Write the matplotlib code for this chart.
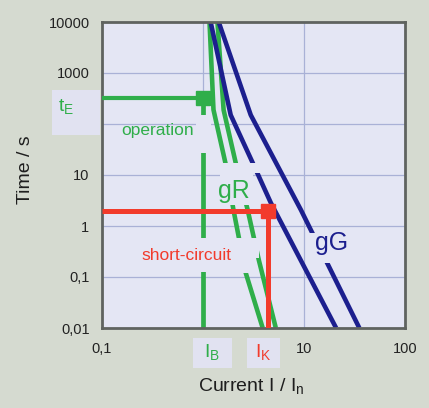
import matplotlib
matplotlib.use("Agg")
import matplotlib.pyplot as plt
from matplotlib.patches import Rectangle
from matplotlib.ticker import FixedLocator, NullLocator

plt.rcParams['font.family'] = ['Liberation Sans', 'DejaVu Sans']

# Time-current characteristics (current in multiples of I_n, time in s)
gR_fast_current = [1.16, 1.27, 1.67, 2.0, 2.65, 3.9]
gR_fast_time = [10000, 190, 17, 2.1, 0.12, 0.01]
gR_slow_current = [1.39, 1.60, 2.11, 2.77, 3.57, 5.26]
gR_slow_time = [10000, 188, 17.2, 2.06, 0.215, 0.01]
gG_fast_current = [1.19, 1.88, 3.11, 4.70, 20.8]
gG_fast_time = [10000, 150, 17.2, 2.83, 0.01]
gG_slow_current = [1.43, 2.97, 9.33, 35.3]
gG_slow_time = [10000, 150, 2.06, 0.01]

# Operating points
I_B = 1.0      # operating current
t_E = 320      # operating time
I_K = 4.45     # short-circuit current
t_K = 2.0      # short-circuit trip time

y_ticks = [0.01, 0.1, 1, 10, 1000, 10000]
y_labels = ['0,01', '0,1', '1', '10', '1000', '10000']
x_ticks = [0.1, 10, 100]
x_labels = ['0,1', '10', '100']

GREEN = '#2fae4a'
BLUE = '#1c1f8e'
RED = '#f23b2c'
PLOT_BG = '#e4e6f4'
FIG_BG = '#d5dad0'
BOX_BG = '#e1e2f1'

W, H = 429, 408
fig = plt.figure(figsize=(W / 100, H / 100), dpi=100, facecolor=FIG_BG)
ax = fig.add_axes([102 / W, 1 - 328 / H, (405 - 102) / W, (328 - 22) / H])
ax.set_facecolor(PLOT_BG)
ax.set_xscale('log')
ax.set_yscale('log')
ax.set_xlim(0.1, 100)
ax.set_ylim(0.01, 10000)

# grid
for yv in [0.1, 1, 10, 100, 1000]:
    ax.axhline(yv, color='#a9b1d6', lw=0.9, zorder=0.5)
for xv in [1, 10]:
    ax.axvline(xv, color='#a9b1d6', lw=0.9, zorder=0.5)

for s in ax.spines.values():
    s.set_color('#5f635f')
    s.set_linewidth(2)

ax.xaxis.set_major_locator(FixedLocator(x_ticks))
ax.xaxis.set_minor_locator(NullLocator())
ax.set_xticklabels(x_labels)
ax.yaxis.set_major_locator(FixedLocator(y_ticks))
ax.yaxis.set_minor_locator(NullLocator())
ax.set_yticklabels(y_labels)
ax.tick_params(length=0, labelsize=10.5, colors='#222222', pad=9)
ax.tick_params(axis='x', pad=10)

# fuse characteristics
lw = 3.3
ax.plot(gR_fast_current, gR_fast_time, color=GREEN, lw=lw, zorder=2, solid_capstyle='butt')
ax.plot(gR_slow_current, gR_slow_time, color=GREEN, lw=lw, zorder=2, solid_capstyle='butt')
ax.plot(gG_fast_current, gG_fast_time, color=BLUE, lw=lw, zorder=2, solid_capstyle='butt')
ax.plot(gG_slow_current, gG_slow_time, color=BLUE, lw=lw, zorder=2, solid_capstyle='butt')

# operating-current line
ax.plot([I_B, I_B], [t_E, 0.01], color=GREEN, lw=3.4, zorder=2, solid_capstyle='butt')


def px_to_data(px, py):
    I = 10 ** ((px - 102) / 100.5 - 1)
    t = 10 ** (4 - (py - 22) / 51)
    return I, t


# breaks in the lines where labels sit
breaks = [
    (196, 210, 115, 153),   # I_B line at "operation"
    (196, 210, 238, 272),   # I_B line at "short-circuit"
    (219, 252, 163, 205),   # gR curves at "gR"
    (248, 262, 163, 173),   # gG curve next to "gR"
    (232, 250, 238, 273),   # gR fast at "short-circuit"
    (247, 258, 238, 258),   # gR slow at "short-circuit"
    (306, 330, 233, 263),   # gG slow at "gG"
]
for x0, x1, y0, y1 in breaks:
    I0, t1 = px_to_data(x0, y0)
    I1, t0 = px_to_data(x1, y1)
    ax.add_patch(Rectangle((I0, t0), I1 - I0, t1 - t0, facecolor=PLOT_BG,
                           edgecolor='none', zorder=3))

# operating point
ax.plot([0.1, I_B], [t_E, t_E], color=GREEN, lw=3.0, zorder=4, solid_capstyle='butt')
ax.plot([I_B], [t_E], marker='s', ms=10, color=GREEN, zorder=5)

# short-circuit point
ax.plot([0.1, I_K], [t_K, t_K], color=RED, lw=3.6, zorder=4, solid_capstyle='butt')
ax.plot([I_K, I_K], [t_K, 0.01], color=RED, lw=3.6, zorder=4, solid_capstyle='butt')
ax.plot([I_K], [t_K], marker='s', ms=10.5, color=RED, zorder=5)

# labels in the plot
ax.text(0.352, 76, 'operation', color=GREEN, fontsize=12.5, ha='center', va='center', zorder=6)
ax.text(2.01, 4.85, 'gR', color=GREEN, fontsize=18, ha='center', va='center', zorder=6)
ax.text(0.686, 0.27, 'short-circuit', color=RED, fontsize=12.5, ha='center', va='center', zorder=6)
ax.text(18.6, 0.46, 'gG', color=BLUE, fontsize=18, ha='center', va='center', zorder=6)

# marked values on the axes
for (x0, y0, x1, y1) in [(52, 90, 100, 135), (193, 338, 232, 368), (247, 338, 280, 368)]:
    fig.patches.append(Rectangle((x0 / W, 1 - y1 / H), (x1 - x0) / W, (y1 - y0) / H,
                                 transform=fig.transFigure, facecolor=BOX_BG,
                                 edgecolor='none', zorder=1))
fig.text(66 / W, 1 - 106 / H, r'$\mathregular{t_E}$', color=GREEN, fontsize=14,
         ha='center', va='center')
fig.text(212 / W, 1 - 352 / H, r'$\mathregular{I_B}$', color=GREEN, fontsize=14,
         ha='center', va='center')
fig.text(263 / W, 1 - 352 / H, r'$\mathregular{I_K}$', color=RED, fontsize=14,
         ha='center', va='center')

# axis titles
fig.text(25 / W, 1 - 170 / H, 'Time / s', rotation=90, fontsize=14,
         color='#1e1e1e', ha='center', va='center')
fig.text(251 / W, 1 - 386 / H, r'Current I / $\mathregular{I_n}$', fontsize=14,
         color='#1e1e1e', ha='center', va='center')

fig.savefig('out.png', dpi=100, facecolor=FIG_BG)
